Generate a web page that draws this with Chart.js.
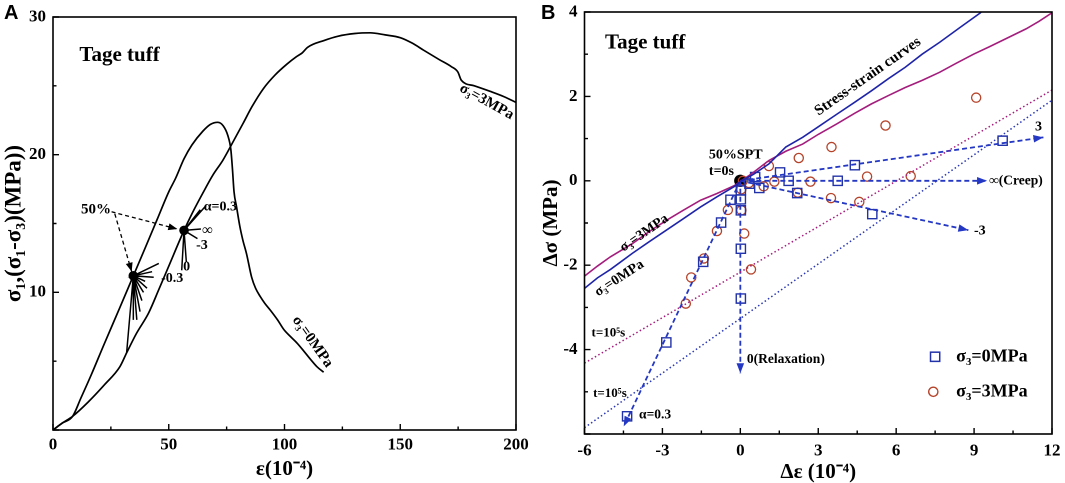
<!DOCTYPE html>
<html><head><meta charset="utf-8">
<script src="https://cdn.jsdelivr.net/npm/chart.js@4.4.1/dist/chart.umd.min.js"></script>
<style>
html,body{margin:0;padding:0;background:#fff;width:1065px;height:483px;overflow:hidden;}
#ca{position:absolute;left:0;top:0;}
#cb{position:absolute;left:530px;top:0;}
</style></head><body>
<canvas id="ca" width="530" height="483" style="width:530px;height:483px"></canvas>
<canvas id="cb" width="535" height="483" style="width:535px;height:483px"></canvas>
<script>
// ---------------- DATA: panel A ----------------
const A_xTicks = [0, 50, 100, 150, 200];
const A_yTicks = [10, 20, 30];
// sigma3 = 0 MPa stress-strain curve  [strain(1e-4), stress(MPa)]
const A_curve0 = [[0,0],[4,0.5],[8.5,1.0],[12,2.3],[16.5,4.0],[22,6.2],[28.9,8.9],[34.7,11.2],[40,13.3],[45,15.3],[50,17.3],[53,18.3],[56.6,19.7],[60,20.7],[64.7,21.7],[68,22.2],[71.2,22.35],[73.5,22.1],[75.5,21.4],[76.8,20.4],[77.5,19.0],[78.2,17.3],[79.3,16.2],[80.7,14.8],[82,13.8],[83.6,12.8],[85.8,11.1],[87.5,10.3],[89.5,9.7],[91.5,9.2],[93.9,8.7],[97,8.0],[99.7,7.3],[102.5,6.8],[105.5,6.3],[108.5,5.7],[111.4,5.1],[114,4.6],[116.9,4.2]];
// sigma3 = 3 MPa stress-strain curve
const A_curve3 = [[0,0],[4,0.5],[8.5,1.0],[15,2.0],[22.3,3.3],[28.9,4.6],[31.8,5.6],[36,7.0],[41.3,8.5],[45.7,10.2],[50,11.9],[56.6,14.5],[60,15.7],[64.7,17.2],[69,18.5],[73.4,19.6],[78,21.0],[82.2,22.3],[86,23.5],[90.9,24.8],[96,25.8],[101.2,26.6],[105,27.1],[107.7,27.4],[110,27.8],[117.2,28.3],[123,28.6],[130.4,28.8],[137,28.85],[143.5,28.7],[150,28.5],[155.2,28.1],[160,27.6],[166.9,26.9],[172,26.4],[174.9,26.0],[176.4,25.4],[182,25.0],[188.8,24.6],[195,24.2],[200,23.8]];
// 50% points and their loading-path fans
const A_center0 = [34.7, 11.2];
const A_fan0 = [[45.7,12.1],[42.8,11.5],[43.5,11.1],[39.8,10.8],[40.6,10.3],[39.1,10.0],[38.4,9.4],[37.6,8.6],[36.2,8.0],[34.7,8.0],[31.8,5.6]];
const A_center3 = [56.6, 14.5];
const A_fan3 = [[66.1,16.3],[63.6,16.0],[63.9,14.6],[62.4,13.9],[57.6,12.2],[55.6,11.6]];
// "50%" pointer arrows
const A_arrowTo3 = [[25.3,15.85],[53.7,14.6]];
const A_arrowTo0 = [[26.7,15.7],[34.0,11.5]];

// ---------------- DATA: panel B ----------------
const B_xTicks = [-6, -3, 0, 3, 6, 9, 12];
const B_yTicks = [-4, -2, 0, 2, 4];
const B_curve0 = [[-6,-2.55],[-5.5,-2.3],[-5,-2.1],[-4.6,-1.92],[-4.16,-1.72],[-3.5,-1.44],[-2.85,-1.17],[-2.2,-0.9],[-1.53,-0.62],[-0.9,-0.38],[-0.22,-0.13],[0.04,0],[0.5,0.15],[1.1,0.4],[1.75,0.8],[2.4,1.03],[3.0,1.28],[3.72,1.58],[4.4,1.86],[5.04,2.13],[5.7,2.42],[6.35,2.69],[7.0,3.0],[7.67,3.28],[8.45,3.63],[9.24,3.98],[9.3,4.02]];
const B_curve3 = [[-6,-2.26],[-5.5,-2.02],[-5,-1.8],[-4.16,-1.49],[-3.5,-1.2],[-2.85,-0.94],[-2.2,-0.7],[-1.53,-0.46],[-0.9,-0.3],[-0.22,-0.11],[0.44,0.17],[1.1,0.48],[1.75,0.7],[2.4,0.87],[3.0,1.1],[3.72,1.35],[4.4,1.6],[5.04,1.82],[5.7,2.02],[6.35,2.21],[7.0,2.38],[7.67,2.57],[8.3,2.78],[8.98,3.0],[9.6,3.18],[10.3,3.39],[11.0,3.6],[11.5,3.78],[12,3.98]];
// t = 1e5 s lines
const B_t5_3MPa = [[-6,-4.32],[12,2.15]];
const B_t5_0MPa = [[-6,-5.85],[12,1.91]];
// loading-path arrows from 50% SPT
const B_pathOrigin = [0, 0];
const B_pathEnds = [[11.67,1.03],[9.5,0],[8.78,-1.17],[0,-4.56],[-4.49,-5.82]];
// measured points
const B_sq0MPa = [[10.1,0.95],[4.41,0.37],[1.53,0.2],[0.57,0.09],[1.86,0.0],[3.75,0.0],[0.73,-0.17],[2.19,-0.29],[5.08,-0.79],[0.35,-0.07],[0.02,-0.23],[0.02,-0.44],[-0.38,-0.45],[0.02,-0.70],[-0.74,-0.99],[-1.43,-1.92],[0.02,-1.61],[0.02,-2.79],[-2.85,-3.83],[-4.36,-5.58]];
const B_ci3MPa = [[9.08,1.97],[5.59,1.31],[3.51,0.80],[2.25,0.54],[1.10,0.35],[4.88,0.10],[6.56,0.11],[2.70,-0.02],[1.31,-0.02],[0.33,-0.05],[0.1,0.0],[0.9,-0.13],[2.21,-0.28],[3.49,-0.41],[4.58,-0.50],[0.04,-0.20],[0.04,-0.70],[0.15,-1.25],[0.41,-2.10],[-0.48,-0.69],[-0.90,-1.19],[-1.40,-1.84],[-1.89,-2.29],[-2.10,-2.91]];

// ---------------- helpers ----------------
const serif = "'Liberation Serif','Times New Roman',Times,serif";
const sans = "'Liberation Sans',Arial,Helvetica,sans-serif";
Chart.defaults.font.family = serif;
Chart.defaults.color = '#000';
const pts = arr => arr.map(p => ({x: p[0], y: p[1]}));
const fan = (c, ends) => { const o = []; ends.forEach(e => { o.push({x:c[0],y:c[1]}); o.push({x:e[0],y:e[1]}); }); return o; };

function frameTicks(chart, xMaj, xMin, yMaj, yMin) {
  const {ctx, chartArea: a, scales: {x, y}} = chart;
  ctx.save();
  ctx.strokeStyle = '#000'; ctx.lineWidth = 1.6;
  ctx.strokeRect(a.left, a.top, a.right - a.left, a.bottom - a.top);
  ctx.lineWidth = 1.4; ctx.beginPath();
  xMaj.forEach(v => { const p = x.getPixelForValue(v); ctx.moveTo(p, a.bottom); ctx.lineTo(p, a.bottom - 6); });
  xMin.forEach(v => { const p = x.getPixelForValue(v); ctx.moveTo(p, a.bottom); ctx.lineTo(p, a.bottom - 3.5); });
  yMaj.forEach(v => { const p = y.getPixelForValue(v); ctx.moveTo(a.left, p); ctx.lineTo(a.left + 6, p); });
  yMin.forEach(v => { const p = y.getPixelForValue(v); ctx.moveTo(a.left, p); ctx.lineTo(a.left + 3.5, p); });
  ctx.stroke(); ctx.restore();
}
function label(chart, s, xv, yv, o) {
  const {ctx, scales: {x, y}} = chart;
  ctx.save();
  ctx.translate(x.getPixelForValue(xv), y.getPixelForValue(yv));
  if (o.rot) ctx.rotate(o.rot * Math.PI / 180);
  ctx.font = 'bold ' + o.size + 'px ' + (o.family || serif);
  ctx.fillStyle = o.color || '#000';
  ctx.textAlign = o.align || 'left';
  ctx.textBaseline = 'middle';
  ctx.fillText(s, 0, 0);
  ctx.restore();
}
function arrowHeads(chart) {
  const ctx = chart.ctx;
  chart.data.datasets.forEach((ds, i) => {
    if (!ds.arrow) return;
    const m = chart.getDatasetMeta(i).data;
    for (let k = 1; k < m.length; k += 2) {
      const p0 = m[k - 1], p1 = m[k];
      const ang = Math.atan2(p1.y - p0.y, p1.x - p0.x);
      const L = ds.headLen || 9, W = ds.headW || 3.5;
      ctx.save(); ctx.translate(p1.x, p1.y); ctx.rotate(ang);
      ctx.fillStyle = ds.borderColor; ctx.beginPath();
      ctx.moveTo(0, 0); ctx.lineTo(-L, -W); ctx.lineTo(-L, W); ctx.closePath(); ctx.fill();
      ctx.restore();
    }
  });
}
function axisOpts(min, max, step, hideVal, tickPad, titleText, titleSize, titlePad, fitSize, horizontal) {
  return {
    type: 'linear', min: min, max: max,
    ticks: {stepSize: step, autoSkip: false, maxRotation: 0, padding: tickPad, color: '#000',
      font: {size: 17, weight: 'bold'}, callback: v => (v === hideVal ? '' : v)},
    grid: {display: false, drawTicks: false}, border: {display: false},
    title: {display: true, text: titleText, color: '#000', font: {size: titleSize, weight: 'bold', lineHeight: 1}, padding: titlePad},
    afterFit: s => { if (horizontal) { s.height = fitSize; s.paddingLeft = 0; s.paddingRight = 0; } else { s.width = fitSize; s.paddingTop = 0; s.paddingBottom = 0; } }
  };
}

// ---------------- panel A ----------------
const blk = '#000';
new Chart(document.getElementById('ca'), {
  type: 'scatter',
  data: {datasets: [
    {data: pts(A_curve0), showLine: true, borderColor: blk, borderWidth: 1.7, pointRadius: 0, cubicInterpolationMode: 'monotone'},
    {data: pts(A_curve3), showLine: true, borderColor: blk, borderWidth: 1.7, pointRadius: 0, cubicInterpolationMode: 'monotone'},
    {data: fan(A_center0, A_fan0), showLine: true, borderColor: blk, borderWidth: 1.5, pointRadius: 0},
    {data: fan(A_center3, A_fan3), showLine: true, borderColor: blk, borderWidth: 1.5, pointRadius: 0},
    {data: pts(A_arrowTo3), showLine: true, borderColor: blk, borderWidth: 1.3, borderDash: [4, 3], pointRadius: 0, arrow: true, headLen: 9, headW: 3.5},
    {data: pts(A_arrowTo0), showLine: true, borderColor: blk, borderWidth: 1.3, borderDash: [4, 3], pointRadius: 0, arrow: true, headLen: 9, headW: 3.5},
    {data: pts([A_center0, A_center3]), showLine: false, pointRadius: 4.8, pointBackgroundColor: blk, pointBorderColor: blk, pointBorderWidth: 0}
  ]},
  options: {
    responsive: false, animation: false, devicePixelRatio: 2,
    layout: {padding: {left: 0, top: 17, right: 14, bottom: 0}},
    plugins: {legend: {display: false}, tooltip: {enabled: false}},
    scales: {
      x: axisOpts(0, 200, 50, null, 5, 'ε(10⁻⁴)', 21, {top: 0, bottom: 3}, 53, true),
      y: axisOpts(0, 30, 10, 0, 7, 'σ₁,(σ₁-σ₃)(MPa))', 23, {top: 3, bottom: 0}, 53, false)
    }
  },
  plugins: [{
    id: 'decoA',
    afterDatasetsDraw(c) {
      frameTicks(c, [0,50,100,150,200], [25,75,125,175], [0,10,20,30], [5,15,25]);
      arrowHeads(c);
      label(c, 'Tage tuff', 11.4, 27.2, {size: 21});
      label(c, 'σ₃=3MPa', 187.3, 23.85, {size: 15, rot: 29, align: 'center'});
      label(c, 'σ₃=0MPa', 112.1, 6.41, {size: 15, rot: 54.6, align: 'center'});
      label(c, '50%', 18.6, 16.0, {size: 15, align: 'center'});
      label(c, 'α=0.3', 65.1, 16.2, {size: 14});
      label(c, '∞', 64.4, 14.5, {size: 15});
      label(c, '-3', 61.8, 13.4, {size: 14});
      label(c, '0', 57.7, 11.86, {size: 14, align: 'center'});
      label(c, '-0.3', 51.5, 11.0, {size: 14, align: 'center'});
      const ctx = c.ctx; ctx.save(); ctx.font = 'bold 20px ' + sans; ctx.fillStyle = '#000';
      ctx.textBaseline = 'alphabetic'; ctx.fillText('A', 4, 19); ctx.restore();
    }
  }]
});

// ---------------- panel B ----------------
const cBlue = '#1e24a8', cPurple = '#a41c7c', cPath = '#2438c4', cSq = '#2232a8', cCi = '#b5432a';
const pathSets = B_pathEnds.map(e => ({data: pts([B_pathOrigin, e]), showLine: true, borderColor: cPath, borderWidth: 1.8, borderDash: [5, 3], pointRadius: 0, arrow: true, headLen: 10, headW: 3.8}));
new Chart(document.getElementById('cb'), {
  type: 'scatter',
  data: {datasets: [
    {data: pts(B_curve0), showLine: true, borderColor: cBlue, borderWidth: 1.6, pointRadius: 0},
    {data: pts(B_curve3), showLine: true, borderColor: cPurple, borderWidth: 1.6, pointRadius: 0},
    {data: pts(B_t5_3MPa), showLine: true, borderColor: cPurple, borderWidth: 1.5, borderDash: [1.5, 2.5], pointRadius: 0},
    {data: pts(B_t5_0MPa), showLine: true, borderColor: '#2a38b4', borderWidth: 1.5, borderDash: [1.5, 2.5], pointRadius: 0},
    ...pathSets,
    {data: pts(B_sq0MPa), pointStyle: 'rect', pointRadius: 6.5, pointBorderColor: cSq, pointBackgroundColor: 'rgba(255,255,255,0)', pointBorderWidth: 1.4},
    {data: pts(B_ci3MPa), pointStyle: 'circle', pointRadius: 4.6, pointBorderColor: cCi, pointBackgroundColor: 'rgba(255,255,255,0)', pointBorderWidth: 1.3},
    {data: pts([B_pathOrigin]), pointRadius: 6.2, pointBackgroundColor: '#000', pointBorderColor: '#000', pointBorderWidth: 0}
  ]},
  options: {
    responsive: false, animation: false, devicePixelRatio: 2,
    layout: {padding: {left: 0, top: 12, right: 13, bottom: 0}},
    plugins: {legend: {display: false}, tooltip: {enabled: false}},
    scales: {
      x: axisOpts(-6, 12, 3, null, 7, 'Δε (10⁻⁴)', 21, {top: 0, bottom: 0}, 49, true),
      y: axisOpts(-6, 4, 2, -6, 7, 'Δσ (MPa)', 21, {top: 11, bottom: 0}, 54.5, false)
    }
  },
  plugins: [{
    id: 'decoB',
    afterDatasetsDraw(c) {
      frameTicks(c, [-6,-3,0,3,6,9,12], [-4.5,-1.5,1.5,4.5,7.5,10.5], [-6,-4,-2,0,2,4], [-5,-3,-1,1,3]);
      arrowHeads(c);
      label(c, 'Tage tuff', -5.21, 3.26, {size: 21});
      label(c, 'Stress-strain curves', 4.91, 2.47, {size: 15, rot: -35, align: 'center'});
      label(c, '50%SPT', -1.21, 0.61, {size: 14});
      label(c, 't=0s', -1.21, 0.22, {size: 14});
      label(c, 'σ₃=3MPa', -3.70, -1.24, {size: 14, rot: -34.6, align: 'center'});
      label(c, 'σ₃=0MPa', -4.66, -2.31, {size: 14, rot: -33, align: 'center'});
      label(c, 't=10⁵s', -5.73, -3.61, {size: 13});
      label(c, 't=10⁵s', -5.67, -5.04, {size: 13});
      label(c, '3', 11.48, 1.28, {size: 14, align: 'center'});
      label(c, '∞(Creep)', 9.58, 0, {size: 13.5});
      label(c, '-3', 9.22, -1.19, {size: 14, align: 'center'});
      label(c, '0(Relaxation)', 0.25, -4.23, {size: 13.5});
      label(c, 'α=0.3', -3.90, -5.55, {size: 13.5});
      // legend
      label(c, 'σ₃=0MPa', 8.31, -4.17, {size: 18});
      label(c, 'σ₃=3MPa', 8.31, -5.0, {size: 18});
      const ctx = c.ctx, xs = c.scales.x, ys = c.scales.y;
      ctx.save();
      ctx.strokeStyle = cSq; ctx.lineWidth = 1.5;
      const s = 9.2, sx = xs.getPixelForValue(7.50), sy = ys.getPixelForValue(-4.17);
      ctx.strokeRect(sx - s / 2, sy - s / 2, s, s);
      ctx.strokeStyle = cCi; ctx.lineWidth = 1.4;
      ctx.beginPath(); ctx.arc(xs.getPixelForValue(7.43), ys.getPixelForValue(-5.0), 4.6, 0, Math.PI * 2); ctx.stroke();
      ctx.font = 'bold 20px ' + sans; ctx.fillStyle = '#000'; ctx.textBaseline = 'alphabetic';
      ctx.fillText('B', 11, 19);
      ctx.restore();
    }
  }]
});
</script>
</body></html>
